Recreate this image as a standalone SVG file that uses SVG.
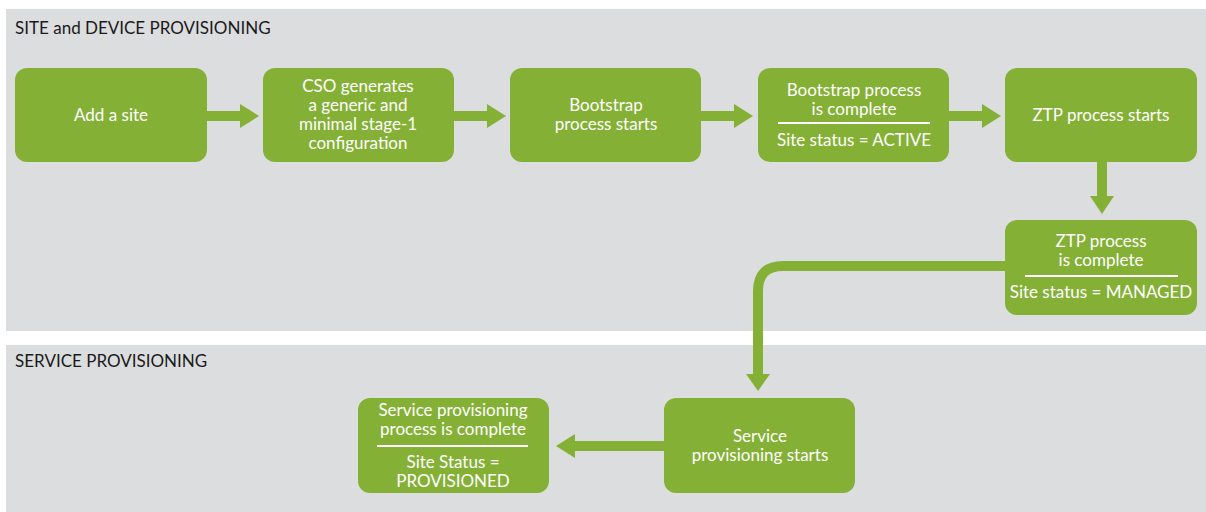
<svg xmlns="http://www.w3.org/2000/svg" width="1206" height="512" viewBox="0 0 1206 512">
<defs>
<style>
.band{fill:#dcdddf}
.title{font-family:Lato,"Liberation Sans",sans-serif;font-size:17px;font-weight:400;fill:#1a1a1a}
.box{fill:#84b135}
.t{font-family:Lato,"Liberation Sans",sans-serif;font-size:17px;font-weight:400;fill:#ffffff;text-anchor:middle}
.sep{stroke:#ffffff;stroke-width:2}
.shaft{stroke:#84b135;stroke-width:10;fill:none}
.head{fill:#84b135}
</style>
</defs>
<rect width="1206" height="512" fill="#ffffff"/>
<rect class="band" x="6" y="9" width="1200" height="322"/>
<rect class="band" x="6" y="345" width="1200" height="167"/>
<text class="title" x="15" y="34">SITE and DEVICE PROVISIONING</text>
<text class="title" x="15" y="367">SERVICE PROVISIONING</text>

<g id="connectors">
<line class="shaft" x1="207" y1="116" x2="242" y2="116"/>
<polygon class="head" points="240,104 259,116 240,128"/>
<line class="shaft" x1="454" y1="116" x2="489" y2="116"/>
<polygon class="head" points="487,104 506,116 487,128"/>
<line class="shaft" x1="701" y1="116" x2="736" y2="116"/>
<polygon class="head" points="734,104 753,116 734,128"/>
<line class="shaft" x1="949" y1="116" x2="984" y2="116"/>
<polygon class="head" points="982,104 1001,116 982,128"/>
<line class="shaft" x1="1102" y1="162" x2="1102" y2="198"/>
<polygon class="head" points="1090,196 1114,196 1102,214"/>
<path class="shaft" d="M1006,266 H783 Q758,266 758,291 V376"/>
<polygon class="head" points="746,374 770,374 758,391"/>
<line class="shaft" x1="664" y1="446" x2="573" y2="446"/>
<polygon class="head" points="575,434 575,458 556,446"/>
</g>

<g id="n1">
<rect class="box" x="15" y="68" width="192" height="94" rx="12"/>
<text class="t" x="111" y="121">Add a site</text>
</g>
<g id="n2">
<rect class="box" x="263" y="68" width="191" height="94" rx="12"/>
<text class="t" x="358" y="92">CSO generates</text>
<text class="t" x="358" y="111">a generic and</text>
<text class="t" x="358" y="130">minimal stage-1</text>
<text class="t" x="358" y="149">configuration</text>
</g>
<g id="n3">
<rect class="box" x="510" y="68" width="191" height="94" rx="12"/>
<text class="t" x="606" y="111">Bootstrap</text>
<text class="t" x="606" y="130">process starts</text>
</g>
<g id="n4">
<rect class="box" x="758" y="68" width="191" height="94" rx="12"/>
<text class="t" x="854" y="96">Bootstrap process</text>
<text class="t" x="854" y="115">is complete</text>
<line class="sep" x1="778" y1="123" x2="930" y2="123"/>
<text class="t" x="854" y="146">Site status = ACTIVE</text>
</g>
<g id="n5">
<rect class="box" x="1005" y="68" width="192" height="94" rx="12"/>
<text class="t" x="1101" y="121">ZTP process starts</text>
</g>
<g id="n6">
<rect class="box" x="1005" y="220" width="192" height="95" rx="12"/>
<text class="t" x="1101" y="247">ZTP process</text>
<text class="t" x="1101" y="266">is complete</text>
<line class="sep" x1="1025" y1="276" x2="1178" y2="276"/>
<text class="t" x="1101" y="298">Site status = MANAGED</text>
</g>
<g id="n7">
<rect class="box" x="664" y="398" width="191" height="95" rx="12"/>
<text class="t" x="760" y="442">Service</text>
<text class="t" x="760" y="461">provisioning starts</text>
</g>
<g id="n8">
<rect class="box" x="358" y="398" width="191" height="95" rx="12"/>
<text class="t" x="453" y="416">Service provisioning</text>
<text class="t" x="453" y="435">process is complete</text>
<line class="sep" x1="377" y1="446" x2="528" y2="446"/>
<text class="t" x="453" y="468">Site Status =</text>
<text class="t" x="453" y="487">PROVISIONED</text>
</g>
</svg>
